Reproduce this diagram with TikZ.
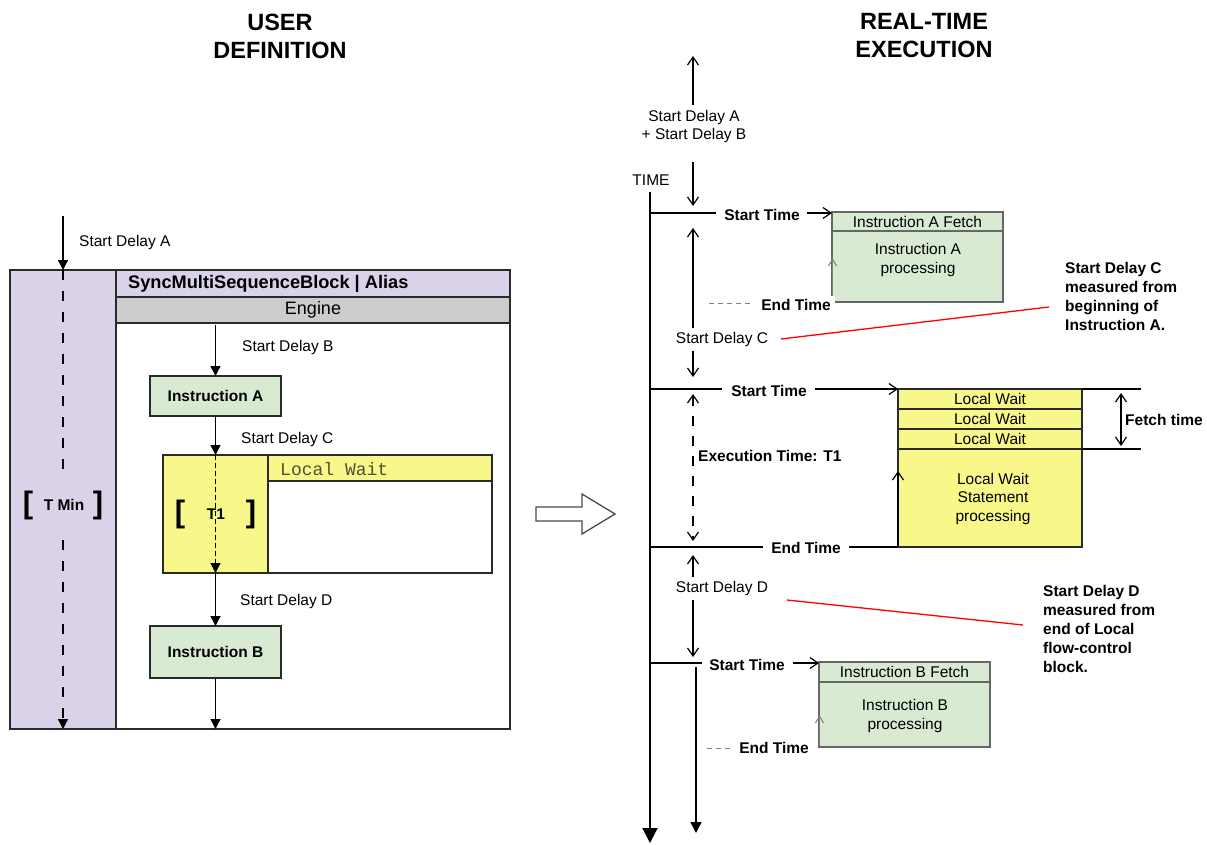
\documentclass[tikz,border=0pt]{standalone}
\usepackage{fontspec}
\setmainfont{Liberation Sans}
\setmonofont{Liberation Mono}
\usetikzlibrary{arrows.meta}
\definecolor{lav}{HTML}{D9D2E9}
\definecolor{engg}{HTML}{CCCCCC}
\definecolor{pgreen}{HTML}{D9EAD3}
\definecolor{pyel}{HTML}{F8F88A}
\definecolor{lwtxt}{HTML}{505035}
\definecolor{bord}{HTML}{2A2A2A}
\definecolor{gbord}{HTML}{666666}
\begin{document}
\begin{tikzpicture}[x=1pt,y=-1pt,
  lbl/.style={font=\fontsize{15.5}{18.5}\selectfont, inner sep=0pt},
  blbl/.style={font=\bfseries\fontsize{15.5}{18.5}\selectfont, inner sep=0pt},
  annot/.style={font=\bfseries\fontsize{15.5}{19}\selectfont, inner sep=0pt, align=left, anchor=west},
  ttl/.style={font=\bfseries\fontsize{23.5}{28}\selectfont, align=center, inner sep=0pt},
  brk/.style={font=\bfseries\fontsize{31}{31}\selectfont, inner sep=0pt},
  box/.style={draw=bord, line width=1.4pt, inner sep=0pt, outer sep=0pt, anchor=north west},
  gbox/.style={box, draw=gbord, fill=pgreen, font=\fontsize{15.5}{18.5}\selectfont},
  farr/.style={-{Triangle[width=10pt,length=10pt]}, line width=1.4pt},
  oarr/.style={-{Straight Barb[width=11pt,length=8pt,line width=1.2pt]}, line width=1.3pt},
  darr/.style={{Straight Barb[width=11pt,length=8pt,line width=1.2pt]}-{Straight Barb[width=11pt,length=8pt,line width=1.2pt]}, line width=1.3pt},
  garr/.style={-{Straight Barb[width=8pt,length=7pt]}, line width=1pt, draw=gray},
  hline/.style={line width=1.4pt},
  redl/.style={draw=red, line width=1.3pt},
]
\useasboundingbox (0,0) rectangle (1207,844);

% titles
\node[ttl] (tUser) at (280,36) {USER\\DEFINITION};
\node[ttl] (tExec) at (924,36) {REAL-TIME\\EXECUTION};

% ---------------- left: user definition
\node[box, fill=lav, minimum width=106pt, minimum height=459pt] (tcol) at (10,270) {};
\node[box, minimum width=394pt, minimum height=459pt] (main) at (116,270) {};
\node[box, fill=lav, minimum width=394pt, minimum height=27pt] (hdr) at (116,270) {};
\node[inner sep=0pt, anchor=west, font=\bfseries\fontsize{18.2}{20}\selectfont] (hdrt) at (128,284) {SyncMultiSequenceBlock | Alias};
\node[box, fill=engg, minimum width=394pt, minimum height=26pt, font=\fontsize{18}{20}\selectfont] (eng) at (116,297) {Engine};

\coordinate (sdaTop) at (63,216);
\draw[farr] (sdaTop) -- (tcol.north);
\node[lbl, anchor=west] (sdal) at (79,242) {Start Delay A};

\node[blbl, minimum height=70pt] (tmin) at (64,505) {T Min};
\node[brk] (tminl) at (28,505) {[};
\node[brk] (tminr) at (98,505) {]};
\draw[line width=1.3pt, dash pattern=on 10pt off 11pt] (tcol.north) -- (tcol.north |- tmin.north);
\draw[farr, dash pattern=on 10pt off 11pt] (tcol.north |- tmin.south) -- (tcol.south);

\node[box, anchor=center, fill=pgreen, minimum width=131pt, minimum height=40pt, font=\bfseries\fontsize{15.5}{18}\selectfont] (insA) at (215.5,396) {Instruction A};
\coordinate (sdbTop) at (215.5,325);
\draw[farr] (sdbTop) -- (insA.north);
\node[lbl, anchor=west] (sdbl) at (242,347) {Start Delay B};

\node[box, minimum width=224pt, minimum height=118pt] (lwbody) at (268,455) {};
\node[box, fill=pyel, minimum width=224pt, minimum height=26pt] (lwhdr) at (268,455) {};
\node[anchor=west, inner sep=0pt, font=\ttfamily\fontsize{18}{20}\selectfont, text=lwtxt] (lwhdrt) at (280,469) {Local Wait};
\node[box, fill=pyel, minimum width=105pt, minimum height=118pt] (lw) at (163,455) {};
\draw[farr] (insA.south) -- (lw.north);
\node[lbl, anchor=west] (sdcl) at (241,439) {Start Delay C};
\draw[farr, line width=1.2pt, dash pattern=on 5pt off 3pt] (lw.north) -- (lw.south);
\node[blbl] (tone) at (216,514) {T1};
\node[brk] (tonel) at (180,514) {[};
\node[brk] (toner) at (251,514) {]};

\node[box, anchor=center, fill=pgreen, minimum width=131pt, minimum height=52pt, font=\bfseries\fontsize{15.5}{18}\selectfont] (insB) at (215.5,652) {Instruction B};
\draw[farr] (lw.south) -- (insB.north);
\node[lbl, anchor=west] (sddl) at (240,601) {Start Delay D};
\draw[farr] (insB.south) -- (insB.south |- main.south);

% block arrow
\draw[draw=bord!85, line width=1.3pt] (536,507) -- (582,507) -- (582,494) -- (615,514) -- (582,534) -- (582,521) -- (536,521) -- cycle;

% ---------------- right: real-time execution
\coordinate (axTop) at (650,192);
\coordinate (axBot) at (650,843);
\draw[line width=2pt, -{Triangle[width=15pt,length=15pt]}] (axTop) -- (axBot);
\node[lbl] (time) at (651,180) {TIME};

\node[lbl, align=center] (sdab) at (694,126.5) {Start Delay A\\+ Start Delay B};
\coordinate (upA) at (693,56);
\coordinate (upAb) at (693,105);
\draw[oarr] (upAb) -- (upA);
\coordinate (dnA) at (693,162);
\coordinate (dnAb) at (693,206);
\draw[oarr] (dnA) -- (dnAb);

% start time 1 / instruction A
\coordinate (st1L) at (650,213);
\coordinate (st1R) at (716,213);
\draw[hline] (st1L) -- (st1R);
\node[blbl] (st1) at (762,215) {Start Time};
\node[gbox, minimum width=171pt, minimum height=71pt] (boxAb) at (832,231) {};
\node[gbox, minimum width=171pt, minimum height=19pt] (boxAf) at (832,212) {Instruction A Fetch};
\node[lbl, align=center] (boxAt) at (918,260) {Instruction A\\processing};
\coordinate (st1a) at (807,213);
\draw[oarr] (st1a) -- (st1L -| boxAf.west);
\coordinate (gA1) at (832.5,297);
\coordinate (gA2) at (832.5,258);
\draw[garr] (gA1) -- (gA2);
\coordinate (etA1) at (709,303);
\coordinate (etA2) at (753,303);
\draw[gray, line width=1pt, dash pattern=on 5pt off 4pt] (etA1) -- (etA2);
\node[blbl, fill=white, inner xsep=4pt, inner ysep=3pt] (et1) at (796,305) {End Time};

% start delay C
\coordinate (sdc1) at (693,228);
\coordinate (sdc2) at (693,377);
\draw[darr] (sdc1) -- (sdc2);
\node[lbl, fill=white, inner ysep=4pt] (sdc) at (722,339.5) {Start Delay C};
\coordinate (redC1) at (781,339);
\coordinate (redC2) at (1049,307);
\draw[redl] (redC1) -- (redC2);
\node[annot] (annC) at (1065,296.5) {Start Delay C\\measured from\\beginning of\\Instruction A.};

% start time 2 / local wait
\coordinate (st2L) at (650,389);
\coordinate (st2R) at (722,389);
\draw[hline] (st2L) -- (st2R);
\node[blbl] (st2) at (769,391) {Start Time};
\node[box, fill=pyel, minimum width=184pt, minimum height=98pt] (lwb) at (898,449) {};
\node[box, fill=pyel, minimum width=184pt, minimum height=20pt, font=\fontsize{15.5}{18}\selectfont] (lw1) at (898,389) {Local Wait};
\node[box, fill=pyel, minimum width=184pt, minimum height=20pt, font=\fontsize{15.5}{18}\selectfont] (lw2) at (898,409) {Local Wait};
\node[box, fill=pyel, minimum width=184pt, minimum height=20pt, font=\fontsize{15.5}{18}\selectfont] (lw3) at (898,429) {Local Wait};
\node[lbl, align=center] (lwbt) at (993,498.5) {Local Wait\\Statement\\processing};
\coordinate (st2a) at (815,389);
\draw[oarr] (st2a) -- (st2L -| lw1.west);
\coordinate (ftTop) at (1141,389);
\coordinate (ftBot) at (1141,449);
\draw[hline] (lw1.north east) -- (ftTop);
\draw[hline] (lw3.south east) -- (ftBot);
\coordinate (ft1) at (1121,393);
\coordinate (ft2) at (1121,446);
\draw[darr] (ft1) -- (ft2);
\node[blbl, anchor=west] (ft) at (1125,420) {Fetch time};

\coordinate (ex1) at (693,394);
\coordinate (ex2) at (693,541);
\draw[darr, line width=2.2pt, dash pattern=on 10pt off 10pt] (ex1) -- (ex2);
\node[blbl, anchor=west] (ext) at (698,456) {Execution Time: T1};

\coordinate (et2L) at (650,547);
\coordinate (et2R) at (763,547);
\draw[hline] (et2L) -- (et2R);
\node[blbl] (et2) at (806,548) {End Time};
\coordinate (et2a) at (849,547);
\draw[hline] (et2a) -- (lwb.south west);
\coordinate (lwUp) at (898,471);
\draw[oarr] (lwb.south west) -- (lwUp);

% start delay D
\coordinate (sdd1) at (693,555);
\coordinate (sdd2) at (693,657);
\draw[darr] (sdd1) -- (sdd2);
\node[lbl, fill=white, inner ysep=4pt] (sdd) at (722,588.5) {Start Delay D};
\coordinate (redD1) at (787,600);
\coordinate (redD2) at (1023,625);
\draw[redl] (redD1) -- (redD2);
\node[annot] (annD) at (1043,628.5) {Start Delay D\\measured from\\end of Local\\flow-control\\block.};

% start time 3 / instruction B
\coordinate (st3L) at (650,663);
\coordinate (st3R) at (702,663);
\draw[hline] (st3L) -- (st3R);
\node[blbl] (st3) at (747,665) {Start Time};
\node[gbox, minimum width=171pt, minimum height=65pt] (boxBb) at (819,682) {};
\node[gbox, minimum width=171pt, minimum height=20pt] (boxBf) at (819,662) {Instruction B Fetch};
\node[lbl, align=center] (boxBt) at (905,716) {Instruction B\\processing};
\coordinate (st3a) at (793,663);
\draw[oarr] (st3a) -- (st3L -| boxBf.west);
\coordinate (gB1) at (819.5,745);
\coordinate (gB2) at (819.5,715);
\draw[garr] (gB1) -- (gB2);
\coordinate (etB1) at (707,748);
\coordinate (etB2) at (731,748);
\draw[gray, line width=1pt, dash pattern=on 5pt off 4pt] (etB1) -- (etB2);
\node[blbl, fill=white, inner xsep=4pt, inner ysep=3pt] (et3) at (774,748) {End Time};

\coordinate (dn3a) at (696,667);
\coordinate (dn3b) at (696,833);
\draw[line width=1.5pt, -{Triangle[width=11pt,length=11pt]}] (dn3a) -- (dn3b);
\end{tikzpicture}
\end{document}
